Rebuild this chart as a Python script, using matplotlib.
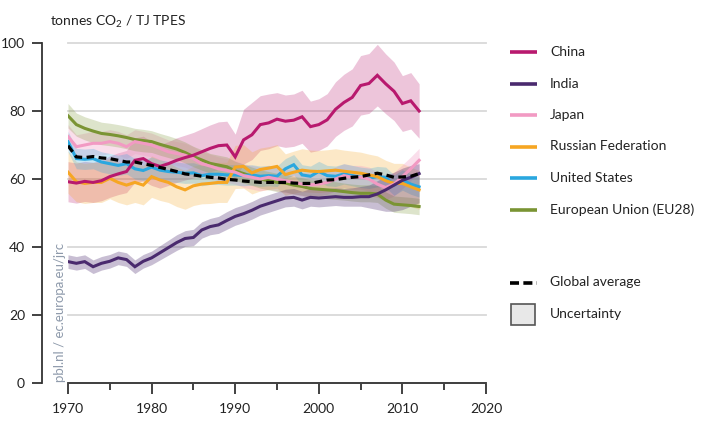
import matplotlib
matplotlib.use("Agg")
import matplotlib.pyplot as plt
from matplotlib.lines import Line2D
from matplotlib.patches import Rectangle
from matplotlib.ticker import MultipleLocator

plt.rcParams['font.family'] = ['Lato', 'DejaVu Sans']
plt.rcParams['mathtext.fontset'] = 'custom'
plt.rcParams['mathtext.rm'] = 'Lato'
plt.rcParams['mathtext.it'] = 'Lato'

years = list(range(1970, 2013))

china = [59.2,58.8,59.3,59.0,59.5,60.7,61.5,62.2,65.5,66.0,64.5,63.7,64.5,65.5,66.3,67.0,68.0,69.0,69.8,70.0,
         66.5,71.5,73.0,76.0,76.5,77.6,77.0,77.3,78.3,75.4,76.0,77.4,80.5,82.5,84.0,87.5,88.1,90.5,88.0,85.8,
         82.2,83.0,80.0]
china_low = [53.3,52.9,53.4,53.1,53.6,54.6,55.4,56.0,59.0,59.4,58.1,57.3,58.1,59.0,59.7,60.3,61.2,62.1,62.8,63.0,
             59.9,64.4,65.7,68.4,68.9,69.8,69.3,69.6,70.5,67.9,68.4,69.7,72.5,74.3,75.6,78.8,79.3,81.5,79.2,77.2,
             74.0,74.7,72.0]
china_high = [65.1,64.7,65.2,64.9,65.5,66.8,67.7,68.4,72.1,72.6,71.0,70.1,71.0,72.1,72.9,73.7,74.8,75.9,76.8,77.0,
              73.2,80.5,82.5,84.5,85.0,85.4,84.7,85.0,86.1,82.9,83.6,85.1,88.6,90.8,92.4,96.3,96.9,99.6,96.8,94.4,
              90.4,91.3,88.0]

india = [35.7,35.2,35.7,34.2,35.2,35.8,36.8,36.3,34.2,35.8,36.8,38.3,39.8,41.3,42.5,42.8,45.0,46.0,46.5,47.8,
         49.0,49.8,50.8,52.0,52.8,53.6,54.4,54.6,53.8,54.6,54.4,54.6,54.8,54.6,54.6,54.8,54.8,55.6,56.8,58.2,
         59.6,60.5,61.6]
india_low = [33.7,33.2,33.7,32.2,33.2,33.8,34.8,34.3,32.2,33.8,34.8,36.2,37.6,39.0,40.2,40.4,42.6,43.6,44.0,45.2,
             46.4,47.2,48.2,49.4,50.2,51.0,51.8,52.0,51.2,52.0,51.8,52.0,52.2,52.0,52.0,52.0,51.5,51.0,50.5,50.5,
             51.0,52.0,53.0]
india_high = [37.7,37.2,37.7,36.2,37.2,37.8,38.8,38.3,36.2,37.8,38.8,40.4,42.0,43.6,44.8,45.2,47.4,48.4,49.0,50.4,
              51.6,52.4,53.4,54.6,55.4,56.2,57.0,57.2,56.4,57.2,57.0,57.2,57.4,57.2,57.4,57.8,58.2,59.5,60.8,62.0,
              63.2,64.0,64.5]

japan = [72.5,69.5,70.0,70.5,70.5,71.0,70.5,69.5,71.0,70.5,70.0,69.0,68.0,67.5,67.0,66.0,64.5,63.8,63.0,62.5,
         62.0,61.0,60.5,60.0,60.5,60.0,59.5,59.0,58.5,58.3,58.5,59.0,60.0,61.0,60.5,60.5,60.0,58.5,57.5,58.5,
         60.7,63.0,65.5]
japan_low = [69.0,66.0,66.5,67.0,67.0,67.5,67.0,66.0,67.5,67.0,66.5,65.5,64.5,64.0,63.5,62.5,61.0,60.3,59.5,59.0,
             58.5,57.5,57.0,56.5,57.0,56.5,56.0,55.5,55.0,54.8,55.0,55.5,56.5,57.5,57.0,57.0,56.5,55.0,54.0,55.0,
             57.2,59.5,62.0]
japan_high = [76.0,73.0,73.5,74.0,74.0,74.5,74.0,73.0,74.5,74.0,73.5,72.5,71.5,71.0,70.5,69.5,68.0,67.3,66.5,66.0,
              65.5,64.5,64.0,63.5,64.0,63.5,63.0,62.5,62.0,61.8,62.0,62.5,63.5,64.5,64.0,64.0,63.5,62.0,61.0,62.0,
              64.2,66.5,69.0]

russia = [62.0,59.2,58.7,59.0,59.0,60.2,59.0,58.2,59.0,58.2,60.7,59.7,59.0,57.7,56.8,58.0,58.5,58.7,59.0,59.0,
          63.5,63.7,61.8,62.8,63.2,63.7,61.3,62.0,62.6,62.3,62.2,62.4,62.6,62.3,62.0,61.7,61.2,60.7,59.5,58.7,
          58.7,57.7,56.8]
russia_low = [55.8,53.3,52.8,53.1,53.1,54.2,53.1,52.4,53.1,52.4,54.6,53.7,53.1,51.9,51.1,52.2,52.7,52.8,53.1,53.1,
              57.2,57.3,55.6,56.5,56.9,57.3,55.2,55.8,56.3,56.1,56.0,56.2,56.3,56.1,55.8,55.5,55.1,54.6,53.6,52.8,
              52.8,51.9,51.1]
russia_high = [68.2,65.1,64.6,64.9,64.9,66.2,64.9,64.0,64.9,64.0,66.8,65.7,64.9,63.5,62.5,63.8,64.4,64.6,64.9,64.9,
               69.9,70.1,68.0,69.1,69.5,70.1,67.4,68.2,68.9,68.5,68.4,68.6,68.9,68.5,68.2,67.9,67.3,66.8,65.5,64.6,
               64.6,63.5,62.5]

usa = [71.0,66.0,65.8,66.0,65.0,64.5,64.0,64.5,63.0,62.5,63.5,62.6,62.2,62.0,61.7,61.8,61.0,61.4,61.4,61.2,
       61.2,61.0,61.2,60.8,61.0,60.8,63.0,64.2,61.2,60.8,62.2,61.0,60.8,61.5,61.0,60.5,60.2,60.7,60.5,58.2,
       59.7,58.5,57.7]
usa_low = [68.0,63.0,62.8,63.0,62.0,61.5,61.0,61.5,60.0,59.5,60.5,59.6,59.2,59.0,58.7,58.8,58.0,58.4,58.4,58.2,
           58.2,58.0,58.2,57.8,58.0,57.8,60.0,61.2,58.2,57.8,59.2,58.0,57.8,58.5,58.0,57.5,57.2,57.7,57.5,55.2,
           56.7,55.5,54.7]
usa_high = [74.0,69.0,68.8,69.0,68.0,67.5,67.0,67.5,66.0,65.5,66.5,65.6,65.2,65.0,64.7,64.8,64.0,64.4,64.4,64.2,
            64.2,64.0,64.2,63.8,64.0,63.8,66.0,67.2,64.2,63.8,65.2,64.0,63.8,64.5,64.0,63.5,63.2,63.7,63.5,61.2,
            62.7,61.5,60.7]

eu28 = [78.6,76.0,74.9,74.1,73.4,73.1,72.7,72.2,71.6,71.3,71.0,70.2,69.5,68.8,67.8,66.6,65.6,64.6,64.1,63.6,
        62.4,61.6,60.8,60.0,59.5,59.0,58.8,58.2,57.8,57.2,57.0,56.8,56.6,56.3,56.0,55.8,55.8,55.6,53.8,52.6,
        52.4,52.2,51.9]
eu28_low = [75.0,72.6,71.5,70.7,70.1,69.8,69.4,68.9,68.3,68.0,67.8,67.0,66.3,65.7,64.7,63.6,62.6,61.7,61.2,60.7,
            59.6,58.8,58.1,57.3,56.8,56.3,56.2,55.6,55.2,54.6,54.4,54.2,54.0,53.8,53.5,53.3,53.3,53.1,51.4,50.2,
            50.0,49.8,49.5]
eu28_high = [82.2,79.4,78.3,77.5,76.7,76.4,76.0,75.5,74.9,74.6,74.2,73.4,72.7,71.9,70.9,69.6,68.6,67.5,67.0,66.5,
             65.2,64.4,63.5,62.7,62.2,61.7,61.4,60.8,60.4,59.8,59.6,59.4,59.2,58.8,58.5,58.3,58.3,58.1,56.2,55.0,
             54.8,54.6,54.3]

global_avg = [69.8,66.5,66.3,66.6,66.2,66.0,65.5,65.0,65.0,64.5,64.0,63.4,62.8,62.2,61.5,61.2,60.8,60.5,60.3,59.9,
              59.7,59.4,59.2,59.0,59.0,59.0,59.0,58.8,58.7,58.7,59.2,59.7,59.8,60.2,60.5,60.7,61.2,61.7,61.2,60.5,
              60.6,60.8,61.6]

names = ['China', 'India', 'Japan', 'Russian Federation', 'United States', 'European Union (EU28)']
colors = ['#b8196e', '#4a2a6e', '#f29ac3', '#f6a623', '#2aa7df', '#7a9433']
band_alpha = [0.25, 0.30, 0.32, 0.25, 0.25, 0.25]
series = [china, india, japan, russia, usa, eu28]
lows = [china_low, india_low, japan_low, russia_low, usa_low, eu28_low]
highs = [china_high, india_high, japan_high, russia_high, usa_high, eu28_high]

xticks = [1970, 1980, 1990, 2000, 2010, 2020]
yticks = [0, 20, 40, 60, 80, 100]

W, H = 703, 421
fig = plt.figure(figsize=(W / 100, H / 100), dpi=100)
ax = fig.add_axes([68 / W, 1 - 383 / H, 418 / W, 340 / H])
ax.set_xlim(1970, 2020)
ax.set_ylim(0, 100)

text_col = '#222222'
axis_col = '#333333'

# bands
band_order = [0, 3, 2, 4, 5, 1]
for i in band_order:
    ax.fill_between(years, lows[i], highs[i], color=colors[i], alpha=band_alpha[i], lw=0, zorder=1)

# lines
line_order = [5, 4, 3, 2, 1, 0]
for i in line_order:
    ax.plot(years, series[i], color=colors[i], lw=2.2, zorder=3, solid_joinstyle='miter')
ax.plot(years, global_avg, color='black', lw=2.3, dashes=(2.4, 1.4), zorder=4)

# axes styling
ax.set_xticks(xticks)
ax.set_yticks(yticks)
ax.xaxis.set_minor_locator(MultipleLocator(5))
ax.yaxis.grid(True, color='#d9d9d9', lw=1.3, clip_on=False)
ax.set_axisbelow(True)
for s in ['top', 'right']:
    ax.spines[s].set_visible(False)
ax.spines['left'].set_position(('outward', 19))
for s in ['left', 'bottom']:
    ax.spines[s].set_color(axis_col)
    ax.spines[s].set_linewidth(1.3)
ax.tick_params(axis='y', direction='out', length=7, width=1.3, pad=5, labelsize=10,
               colors=axis_col, labelcolor=text_col)
ax.tick_params(axis='x', which='major', direction='out', length=7.7, width=1.3, pad=7,
               labelsize=10, colors=axis_col, labelcolor=text_col)
ax.tick_params(axis='x', which='minor', direction='out', length=4.8, width=1.3, colors=axis_col)

# title / unit
fig.text(50 / W, 1 - 26 / H, 'tonnes CO$_2$ / TJ TPES', ha='left', va='baseline',
         fontsize=10, color=text_col)

# watermark
fig.text(60 / W, 1 - 382 / H, 'pbl.nl / ec.europa.eu/jrc', rotation=90, ha='center',
         va='bottom', fontsize=9.5, color='#8e9aab')

# legend
def fx(px):
    return px / W

def fy(py):
    return 1 - py / H

leg_y = [52, 83.5, 115, 146.5, 178, 210]
for name, c, yy in zip(names, colors, leg_y):
    fig.add_artist(Line2D([fx(510), fx(537)], [fy(yy), fy(yy)], color=c, lw=2.6,
                          transform=fig.transFigure, solid_capstyle='butt'))
    fig.text(fx(550), fy(yy), name, ha='left', va='center', fontsize=10, color=text_col)

fig.add_artist(Line2D([fx(510), fx(537)], [fy(282.5), fy(282.5)], color='black', lw=2.6,
                      dashes=(2.5, 1.2), transform=fig.transFigure))
fig.text(fx(550), fy(282.5), 'Global average', ha='left', va='center', fontsize=10, color=text_col)
fig.add_artist(Rectangle((fx(511), fy(325)), fx(535) - fx(511), fy(304) - fy(325),
                         facecolor='#e8e8e8', edgecolor='#555555', lw=1.2,
                         transform=fig.transFigure))
fig.text(fx(550), fy(314), 'Uncertainty', ha='left', va='center', fontsize=10, color=text_col)

fig.savefig('out.png', dpi=100)
